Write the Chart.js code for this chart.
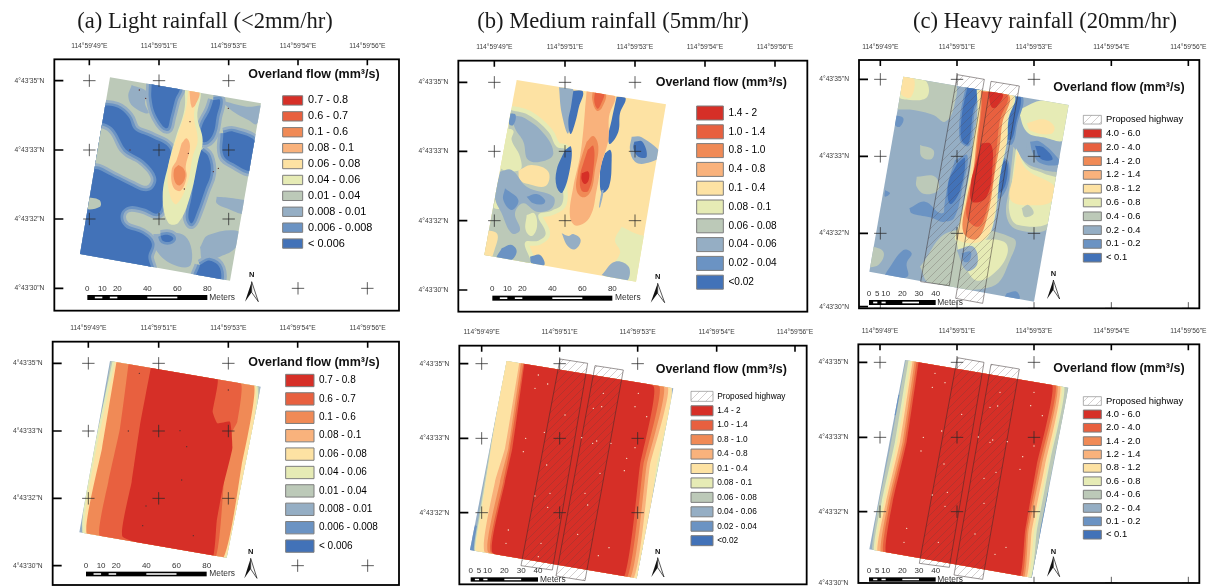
<!DOCTYPE html>
<html><head><meta charset="utf-8">
<style>html,body{margin:0;padding:0;background:#fff;width:1208px;height:586px;overflow:hidden}
canvas{position:absolute;filter:blur(.35px)}</style>
<script src="https://cdn.jsdelivr.net/npm/chart.js@4"></script>
</head><body>
<script>
// ---------- shared labels and colours ----------
const xTickLabels = ['114°59\'49"E','114°59\'51"E','114°59\'53"E','114°59\'54"E','114°59\'56"E'];
const yTickLabels = ['4°43\'35"N','4°43\'33"N','4°43\'32"N','4°43\'30"N'];
const classColors = ['#d62f27','#e8603f','#f08a56','#f9b27c','#fde2a3','#e6ebb5','#bcc9b8','#95aec4','#6b93c3','#4272b8'];
const legendLight = ['0.7 - 0.8','0.6 - 0.7','0.1 - 0.6','0.08 - 0.1','0.06 - 0.08','0.04 - 0.06','0.01 - 0.04','0.008 - 0.01','0.006 - 0.008','< 0.006'];
const legendMedium = ['1.4 - 2','1.0 - 1.4','0.8 - 1.0','0.4 - 0.8','0.1 - 0.4','0.08 - 0.1','0.06 - 0.08','0.04 - 0.06','0.02 - 0.04','<0.02'];
const legendHeavy = ['4.0 - 6.0','2.0 - 4.0','1.4 - 2.0','1.2 - 1.4','0.8 - 1.2','0.6 - 0.8','0.4 - 0.6','0.2 - 0.4','0.1 - 0.2','< 0.1'];
const scaleLong = [0,10,20,40,60,80];
const scaleShort = [0,5,10,20,30,40];
const barWhiteLong = [[5,10],[15,20],[40,60]];
const barWhiteShort = [[2.5,5],[7.5,10],[20,30]];

// ---------- map outlines (map units: 3 units per screen pixel of the panel) ----------
const outlineA = [330,232,783,310,690,842,240,762];
const outlineB = [335,240,783,313,693,845,238,765];
const outlineC = [280,230,776,315,672,905,178,815];
const outlineD = [330,138,782,215,680,728,238,652];
const outlineE = [305,138,805,220,695,790,195,705];
const outlineF = [285,135,775,218,665,788,178,703];

// ---------- contour classes: [class, vertices, halo kind] ----------
const contoursA = [
 [6,[300,220,800,220,800,860,200,860]],
 [7,[395,255,440,275,435,310,445,340,400,320,385,290]],
 [7,[660,300,740,320,790,320,770,372,745,360,700,335]],
 [7,[650,590,700,595,750,610,738,642,680,625,650,610]],
 [7,[460,702,555,708,572,795,515,792,465,745]],
 [7,[600,742,625,705,718,695,708,742,660,770,610,782]],
 [9,[300,315,350,322,385,350,405,390,450,410,510,448,505,520,490,600,474,640,430,625,385,620,362,645,375,680,425,700,455,730,445,770,450,815,220,785,240,600,262,500,285,420],1],
 [6,[285,380,325,395,365,460,420,495,452,535,440,557,400,542,340,512,300,492,260,482],3],
 [6,[255,590,298,600,300,620,255,625]],
 [9,[455,250,537,262,525,300,512,350,500,385,470,350,455,300],1],
 [9,[640,300,660,300,650,350,640,400,620,425,600,420,605,380,630,330],1],
 [9,[605,450,625,470,632,520,615,570,590,640,575,670,565,650,575,590,585,520,590,470],1],
 [9,[670,400,700,395,770,430,755,510,700,490,670,465],1],
 [9,[600,795,630,782,660,805,655,850,590,838],1],
 [9,[482,707,505,705,520,715,510,725,488,722],1],
 [5,[555,265,600,270,592,350,608,420,595,480,570,590,535,668,505,668,488,590,506,490,528,410,553,330]],
 [4,[565,270,590,275,582,350,593,420,578,470,562,550,530,612,511,590,503,520,518,450,538,390,557,330]],
 [3,[545,430,560,415,570,440,557,500,560,530,542,572,520,562,515,510,530,480]],
 [3,[568,270,598,275,586,315,575,322]],
 [2,[535,495,550,505,556,530,540,556,525,546,522,510]]
];
const contoursB = [
 [4,[300,220,800,220,800,860,200,860]],
 [5,[650,680,690,700,730,720,700,860,600,835,645,760,630,720]],
 [6,[318,330,370,345,430,395,455,440,482,450,472,540,472,610,440,632,400,645,422,700,400,722,360,728,372,790,240,790,225,740,250,640,285,520,305,420],4],
 [4,[225,690,275,700,270,745,245,795,210,770]],
 [5,[300,385,325,392,320,420,345,470,345,510,285,500]],
 [4,[340,512,380,495,430,515,422,558,370,552,345,540]],
 [5,[270,600,295,605,295,622,268,625]],
 [5,[365,645,388,640,396,680,380,708,362,690]],
 [7,[322,345,360,355,420,405,445,460,420,482,370,480,355,425,330,385]],
 [7,[285,515,320,510,365,560,445,590,440,625,395,635,355,610,330,640,345,690,320,700,290,640,270,590]],
 [8,[365,590,395,582,420,600,415,612,385,610]],
 [8,[300,565,340,600,320,630,295,600]],
 [8,[290,745,320,735,335,755,315,782,275,778]],
 [8,[375,770,405,765,418,795,380,790]],
 [8,[315,340,332,345,325,375,312,372]],
 [7,[462,262,505,270,490,400,470,340]],
 [7,[470,700,490,708,505,702,527,720,510,748,488,738]],
 [7,[590,825,630,785,672,802,662,845]],
 [9,[505,272,534,275,522,320,510,370,497,402,490,365,498,320]],
 [9,[480,450,498,440,496,500,472,578,455,560,455,510]],
 [9,[635,290,662,295,645,340,640,395,615,432,610,410,620,360]],
 [9,[600,460,616,450,620,480,612,560,590,578,585,520,590,490]],
 [7,[590,570,596,570,585,622,582,622]],
 [7,[680,410,710,412,768,465,722,490,690,485,675,450]],
 [9,[688,425,712,425,725,470,700,470,685,445]],
 [3,[545,272,628,285,612,350,610,420,590,490,575,570,555,650,515,677,495,650,505,560,525,470,535,390,540,330]],
 [2,[563,272,602,280,590,325,575,332,562,300]],
 [2,[545,425,565,408,580,440,570,510,558,572,535,592,515,572,518,520,530,470]],
 [1,[570,275,597,280,588,312,578,326,568,305]],
 [1,[548,450,565,438,566,500,550,572,530,572,525,530,535,490]],
 [0,[530,520,550,515,551,540,540,552,530,540]]
];
const contoursC = [
 [7,[160,210,800,210,800,920,160,920]],
 [6,[270,225,430,245,432,320,405,365,370,345,310,330,235,320,250,260]],
 [5,[270,225,345,240,352,290,300,300,260,285]],
 [4,[280,228,312,235,302,292,272,280]],
 [5,[625,330,700,300,790,310,765,418,700,412,650,395]],
 [4,[650,370,700,358,733,380,722,402,662,392]],
 [6,[610,440,650,490,700,510,760,530,720,680,625,690,590,650,598,560]],
 [5,[618,445,652,498,700,520,755,548,725,662,625,675,598,635,605,555]],
 [4,[622,452,652,510,735,560,728,602,670,616,602,600,612,520]],
 [6,[635,625,655,615,671,640,645,651]],
 [6,[330,800,420,695,610,715,600,780,545,860,360,850]],
 [5,[440,725,505,720,582,725,592,762,552,820,502,842,470,810,450,770]],
 [7,[440,750,490,740,502,792,470,812]],
 [8,[455,760,482,755,478,782,462,785]],
 [8,[255,345,280,355,270,380,255,375]],
 [6,[330,435,370,450,365,477,335,470]],
 [6,[320,530,375,530,385,570,345,582,320,560]],
 [8,[225,570,240,580,225,590]],
 [6,[170,735,220,755,205,795,165,795]],
 [8,[230,815,280,750,305,760,290,790,292,830,225,830]],
 [8,[590,880,620,875,628,897,585,895]],
 [8,[298,625,345,605,392,640,418,625,405,665,360,652,305,640]],
 [9,[472,262,507,270,490,330,475,432,455,420,455,350],2],
 [8,[435,480,472,466,457,565,432,655,405,660,412,560]],
 [9,[442,490,465,475,450,572,420,612,415,550]],
 [8,[606,290,640,295,622,372,607,432,582,425,588,370]],
 [9,[612,290,633,295,618,368,605,418,590,415,596,365]],
 [8,[578,468,597,490,592,560,565,596,557,540,568,500]],
 [9,[583,480,593,495,587,552,570,578,565,540,572,505]],
 [7,[650,420,690,415,752,475,750,500,690,500,655,465]],
 [8,[660,425,690,425,750,482,745,495,692,490,668,458]],
 [9,[675,437,700,442,728,478,692,476]],
 [5,[500,268,612,285,595,360,592,420,570,530,548,680,512,728,438,722,448,670,465,590,480,510,490,420,502,340]],
 [4,[505,270,606,285,591,360,590,420,565,530,545,680,510,725,442,718,450,670,468,590,483,510,493,420,505,340]],
 [2,[513,272,597,285,577,370,570,430,556,510,532,650,500,717,460,697,470,600,490,510,500,420,510,340]],
 [1,[517,275,592,285,570,360,562,425,549,540,529,635,505,680,470,650,482,560,497,480,506,400,514,330]],
 [0,[535,275,578,282,560,320,545,322]],
 [0,[515,430,542,432,548,490,530,590,487,605,483,550,498,490]]
];
const contoursD = [
 [7,[300,120,800,120,800,740,220,740]],
 [6,[335,125,245,660,240,690,685,735,775,205]],
 [5,[340,125,250,660,680,735,770,205]],
 [4,[347,125,257,660,672,735,765,205]],
 [2,[352,125,306,400,262,660,665,735,725,450,760,205]],
 [1,[388,128,360,340,325,500,300,665,642,735,672,500,697,350,712,320,722,205]],
 [0,[458,130,420,330,395,500,368,665,635,735,650,620,668,520,697,400,690,320,652,325,638,290,652,190]]
];
const contoursE = [
 [7,[290,125,820,205,700,800,180,715]],
 [8,[210,630,180,715,212,720,222,640]],
 [8,[700,700,720,700,705,805,690,800]],
 [6,[300,125,255,400,222,600,210,720,690,800,730,620,792,210]],
 [5,[302,125,258,400,225,600,213,720,692,800,728,600,796,210]],
 [4,[303,125,258,400,228,600,215,720,690,800,755,450,797,210]],
 [3,[345,130,300,400,270,500,240,712,680,800,735,450,787,213]],
 [2,[350,130,310,400,285,500,250,712,670,800,725,450,775,213]],
 [1,[357,132,315,400,295,500,258,712,660,800,715,450,762,213]],
 [0,[360,132,322,400,300,500,263,714,650,800,705,450,745,213]]
];
const contoursF = [
 [7,[270,120,790,205,680,800,165,715]],
 [8,[258,240,275,240,258,300,248,300]],
 [8,[700,560,720,520,672,790,660,790]],
 [6,[290,120,240,400,200,600,190,720,670,795,690,650,735,420,770,205]],
 [5,[298,120,255,380,215,560,195,720,658,795,680,650,722,430,760,205]],
 [4,[306,122,262,380,222,560,200,720,650,795,672,650,715,440,752,205]],
 [3,[310,125,270,380,228,560,205,720,645,795,665,650,705,450,748,205]],
 [2,[316,125,278,380,235,560,215,720,638,795,655,650,695,450,740,205]],
 [1,[322,125,284,380,241,560,222,720,632,795,650,650,688,450,735,205]],
 [0,[328,125,290,380,248,560,230,720,625,795,645,650,680,450,725,205]]
];

// ---------- proposed highway strips ----------
const highwayC = [[442,224,523,238,418,857,332,845],[543,244,628,258,518,910,437,895]];
const highwayE = [[465,132,548,145,442,765,348,752],[570,152,655,165,540,797,453,783]];
const highwayF = [[442,128,522,142,418,757,328,745],[543,148,628,162,518,793,432,780]];

// ---------- sampling points (small pale dots) ----------
const dotsA = [418,270,437,295,570,365,655,505,553,567,390,450,565,460,640,515,685,325];
const dotsD = [418,175,385,348,540,347,560,395,545,495,438,573,428,632,580,662,685,225];
const dotsE = [400,180,390,220,428,207,480,300,418,352,362,370,355,410,425,450,435,535,390,543,428,577,310,645,303,685,408,685,400,725,518,658,612,698,580,722,595,235,700,235,565,280,590,275,690,275,725,305,530,368,575,378,563,385,618,385,690,398,665,430,658,467,585,475,540,535,548,570];
const dotsF = [375,175,367,217,405,203,455,298,395,348,340,367,333,408,402,447,412,532,367,540,405,574,290,640,282,682,385,682,495,657,588,697,555,718,570,232,672,232,540,277,563,273,662,272,697,302,505,366,548,375,540,382,592,380,672,393,638,425,630,463,558,472,522,490,522,565];

// ---------- six panels ----------
const panels = [
 {canvas:[0,0,405,318],crop:[0,0],x:[163,1197],y:[178,932],xt:[268,477,686,894,1102],yt:[242,450,657,865],
  title:'(a) Light rainfall (<2mm/hr)',titleX:205,outline:outlineA,contours:contoursA,dots:dotsA,
  crosses:[[268,242],[477,242],[686,242],[268,450],[477,450],[686,450],[268,657],[477,657],[686,657],[894,865],[1102,865]],
  head:[745,225],legend:{labels:legendLight,x:848,y:285,bw:60,bh:28,pitch:47.7,size:10.9},
  sb:{x0:262,k:4.5,y:885,h:15,ly:866,ms:scaleLong,wh:barWhiteLong,mx:628},north:[755,825,845,905,20]},
 {canvas:[405,0,410,318],crop:[405,0],x:[160,1207],y:[182,935],xt:[268,480,690,900,1110],yt:[247,454,662,870],
  title:'(b) Medium rainfall (5mm/hr)',titleX:613,outline:outlineB,contours:contoursB,dots:[],
  crosses:[[268,247],[480,247],[690,247],[268,454],[480,454],[690,454],[268,662],[480,662],[690,662]],
  head:[752,247],legend:{labels:legendMedium,x:875,y:318,bw:80,bh:42,pitch:56.4,size:10.1},
  sb:{x0:262,k:4.5,y:887,h:15,ly:866,ms:scaleLong,wh:barWhiteLong,mx:630},north:[758,830,850,908,21]},
 {canvas:[815,0,393,318],crop:[810,0],x:[147,1168],y:[180,925],xt:[211,441,672,904,1135],yt:[238,469,700,920],
  title:'(c) Heavy rainfall (20mm/hr)',titleX:1045,outline:outlineC,contours:contoursC,dots:[],highway:highwayC,
  crosses:[[211,238],[441,238],[672,238],[211,469],[441,469],[672,469],[211,700],[441,700],[672,700],[211,925],[441,925],[672,925],[904,925],[1135,925]],
  head:[730,262],legend:{labels:legendHeavy,hatch:true,x:820,y:345,bw:54,bh:26,pitch:41.4,size:9.4},
  sb:{x0:177,k:5,y:900,h:15,ly:882,ms:scaleShort,wh:barWhiteShort,mx:382},north:[730,822,840,897,19]},
 {canvas:[0,318,405,268],crop:[0,315],x:[158,1197],y:[80,810],xt:[265,476,685,893,1103],yt:[145,348,550,752],
  outline:outlineD,contours:contoursD,dots:dotsD,
  crosses:[[265,145],[476,145],[685,145],[265,348],[476,348],[685,348],[265,550],[476,550],[685,550],[893,752],[1103,752]],
  head:[745,142],legend:{labels:legendLight,x:857,y:178,bw:85,bh:37,pitch:55.2,size:10},
  sb:{x0:258,k:4.525,y:770,h:14,ly:752,ms:scaleLong,wh:barWhiteLong,mx:628},north:[752,712,730,790,19]},
 {canvas:[405,318,410,268],crop:[405,315],x:[163,1205],y:[92,808],xt:[230,464,698,935,1170],yt:[146,370,593],
  outline:outlineE,contours:contoursE,dots:dotsE,highway:highwayE,
  crosses:[[230,146],[464,146],[698,146],[230,370],[464,370],[698,370],[230,593],[464,593],[698,593]],
  head:[752,165],legend:{labels:legendMedium,hatch:true,x:858,y:229,bw:66,bh:30,pitch:43.3,size:8.3},
  sb:{x0:197,k:5.05,y:787,h:13,ly:768,ms:scaleShort,wh:barWhiteShort,mx:405},north:[758,712,728,786,19]},
 {canvas:[815,318,393,268],crop:[810,315],x:[145,1168],y:[88,804],xt:[210,441,672,904,1135],yt:[142,367,590,805],
  outline:outlineF,contours:contoursF,dots:dotsF,highway:highwayF,
  crosses:[[210,142],[441,142],[672,142],[210,367],[441,367],[672,367],[210,590],[441,590],[672,590],[904,804],[1135,804],[672,804]],
  head:[730,162],legend:{labels:legendHeavy,hatch:true,x:820,y:244,bw:54,bh:26,pitch:40.1,size:9.4},
  sb:{x0:177,k:5,y:787,h:13,ly:766,ms:scaleShort,wh:barWhiteShort,mx:382},north:[730,710,725,785,19]}
];

// ---------- helpers ----------
const SANS='"Liberation Sans",Arial,sans-serif', SERIF='"Liberation Serif","Times New Roman",serif';
function toPoints(flat){const p=[];for(let i=0;i<flat.length;i+=2)p.push({x:flat[i],y:flat[i+1]});return p;}
function closed(flat){const p=toPoints(flat);p.push({...p[0]});return p;}
function hatchPattern(){
  const c=document.createElement('canvas');c.width=c.height=8;const g=c.getContext('2d');
  g.strokeStyle='rgba(80,65,65,.42)';g.lineWidth=.6;
  g.beginPath();g.moveTo(-1,9);g.lineTo(9,-1);g.moveTo(-1,1);g.lineTo(1,-1);g.moveTo(7,9);g.lineTo(9,7);g.stroke();
  return document.createElement('canvas').getContext('2d').createPattern(c,'repeat');
}
const hatch=hatchPattern();

// clip contour fills to the rotated map outline: must run before the filler hook
const mapClip={id:'mapClip',
  beforeDatasetDraw(chart,args){
    const ds=chart.data.datasets[args.index]; if(!ds.mapOutline) return;
    const c=chart.ctx,X=chart.scales.x,Y=chart.scales.y,o=ds.mapOutline;
    c.save();c.beginPath();
    for(let i=0;i<o.length;i+=2){const px=X.getPixelForValue(o[i]),py=Y.getPixelForValue(o[i+1]);i?c.lineTo(px,py):c.moveTo(px,py);}
    c.closePath();c.clip();
  },
  afterDatasetDraw(chart,args){ if(chart.data.datasets[args.index].mapOutline) chart.ctx.restore(); }
};
const filler=Chart.registry.plugins.get('filler');
Chart.unregister(filler);
Chart.register(mapClip,filler);
const noOverhang=s=>{s.paddingLeft=s.paddingRight=s.paddingTop=s.paddingBottom=0;};

panels.forEach((P,idx)=>{
  const [cl,ct,cw,ch]=P.canvas;
  const cv=document.createElement('canvas');cv.width=cw;cv.height=ch;
  cv.style.cssText=`left:${cl}px;top:${ct}px;width:${cw}px;height:${ch}px`;
  document.body.appendChild(cv);
  const pxL=P.crop[0]+P.x[0]/3-cl, pxR=P.crop[0]+P.x[1]/3-cl, pxT=P.crop[1]+P.y[0]/3-ct, pxB=P.crop[1]+P.y[1]/3-ct;
  const titleH=P.title?24:0;
  const datasets=[];
  const add=d=>datasets.push(d);
  const fillLayer=(flat,col,bc,bw,t)=>add({type:'line',data:closed(flat),mapOutline:P.outline,backgroundColor:col,borderColor:bc||col,borderWidth:bw||0,fill:'shape',pointRadius:0,tension:t,spanGaps:true,borderJoinStyle:'round'});
  const straight=P.contours.length<=10;
  P.contours.forEach(([k,flat,halo])=>{
    const t=straight?0.12:0.4;
    if(halo===1){fillLayer(flat,classColors[7],classColors[7],11,t);fillLayer(flat,classColors[8],classColors[8],5.5,t);}
    if(halo===2){fillLayer(flat,classColors[7],classColors[7],7,t);fillLayer(flat,classColors[8],classColors[8],3.5,t);}
    if(halo===3){fillLayer(flat,classColors[8],classColors[8],11,t);fillLayer(flat,classColors[7],classColors[7],5.5,t);}
    if(halo===4){fillLayer(flat,classColors[5],classColors[5],9,t);}
    fillLayer(flat,classColors[k],null,0,t);
  });
  (P.highway||[]).forEach(h=>add({type:'line',data:closed(h),backgroundColor:hatch,borderColor:'rgba(50,40,40,.7)',borderWidth:.7,fill:'shape',pointRadius:0,tension:0}));
  if(P.dots.length) add({type:'scatter',data:toPoints(P.dots),pointStyle:'circle',pointRadius:.7,pointBorderWidth:0,pointBackgroundColor:P.highway?'#f6e6d0':'#5a3030',showLine:false});
  add({type:'scatter',data:P.crosses.map(([x,y])=>({x,y})),pointStyle:'cross',pointRadius:6.2,pointBorderWidth:.75,pointBorderColor:'#2a2a2a',showLine:false});
  add({type:'scatter',data:P.yt.map(y=>({x:P.x[0],y})),pointStyle:'line',pointRadius:9,pointBorderWidth:1.6,pointBorderColor:'#000',showLine:false});
  add({type:'scatter',data:P.xt.map(x=>({x,y:P.y[0]})),pointStyle:'line',pointRotation:90,pointRadius:6,pointBorderWidth:1.6,pointBorderColor:'#000',showLine:false});
  datasets.forEach((d,i)=>d.order=datasets.length-i);

  const L=P.legend;
  const boxW=L.bw/3, boxH=L.bh/3;
  const items=[];
  if(L.hatch) items.push({text:'Proposed highway',fillStyle:hatch,strokeStyle:'#9a9a9a',lineWidth:.8,hidden:false});
  L.labels.forEach((t,i)=>items.push({text:t,fillStyle:classColors[i],strokeStyle:'#7d7d7d',lineWidth:1,hidden:false}));
  const itemH=Math.max(boxH,L.size), padding=L.pitch/3-itemH;

  const decorate={id:'decorate'+idx,
    afterLayout(chart){
      const X=chart.scales.x,Y=chart.scales.y,lg=chart.legend;
      const w=lg.width,h=lg.height;
      lg.left=X.getPixelForValue(L.x)-padding; lg.top=Y.getPixelForValue(L.y)-padding;
      lg.right=lg.left+w; lg.bottom=lg.top+h+40;
      if(chart.titleBlock&&P.title){const tb=chart.titleBlock,c=P.titleX-cl;tb.left=c-200;tb.right=c+200;tb.top=10;tb.bottom=34;}
    },
    afterDatasetsDraw(chart){
      const c=chart.ctx,X=chart.scales.x,Y=chart.scales.y,a=chart.chartArea;
      const ux=v=>X.getPixelForValue(v), uy=v=>Y.getPixelForValue(v);
      c.save();
      c.strokeStyle='#000';c.lineWidth=1.8;c.strokeRect(a.left,a.top,a.right-a.left,a.bottom-a.top);
      // panel heading
      c.fillStyle='#111';c.font='bold 12.5px '+SANS;c.textAlign='left';c.textBaseline='middle';
      c.fillText('Overland flow (mm³/s)',ux(P.head[0]),uy(P.head[1]));
      // scale bar
      const S=P.sb,bx=m=>ux(S.x0+m*S.k);
      const last=S.ms[S.ms.length-1];
      c.fillStyle='#000';c.fillRect(bx(0),uy(S.y),bx(last)-bx(0),S.h/3);
      c.fillStyle='#fff';S.wh.forEach(([m0,m1])=>c.fillRect(bx(m0),uy(S.y)+S.h/9,bx(m1)-bx(m0),S.h/9));
      c.fillStyle='#333';c.font='8px '+SANS;c.textAlign='center';
      S.ms.forEach(m=>c.fillText(String(m),bx(m),uy(S.ly)));
      c.textAlign='left';c.font='8.4px '+SANS;c.fillText('Meters',ux(S.mx),uy(S.y+S.h/2));
      // north arrow
      const [nx,ny,tip,base,half]=P.north;
      c.fillStyle='#111';c.font='bold 7.5px '+SANS;c.textAlign='center';c.fillText('N',ux(nx),uy(ny));
      c.beginPath();c.moveTo(ux(nx),uy(tip));c.lineTo(ux(nx-half),uy(base));c.lineTo(ux(nx),uy(base-28));c.closePath();c.fillStyle='#111';c.fill();
      c.beginPath();c.moveTo(ux(nx),uy(tip));c.lineTo(ux(nx+half),uy(base));c.lineTo(ux(nx),uy(base-28));c.closePath();c.fillStyle='#fff';c.fill();c.strokeStyle='#111';c.lineWidth=.7;c.stroke();
      c.restore();
    }
  };

  new Chart(cv,{
    data:{datasets},
    plugins:[decorate],
    options:{
      responsive:false,animation:false,events:[],
      layout:{autoPadding:false,padding:{left:0,top:0,right:cw-pxR,bottom:ch-pxB}},
      scales:{
        x:{type:'linear',position:'top',min:P.x[0],max:P.x[1],
           afterFit:s=>{s.height=pxT-titleH;noOverhang(s);},
           afterBuildTicks:s=>{s.ticks=P.xt.map(v=>({value:v}));},
           grid:{drawOnChartArea:false,drawTicks:false},border:{display:false},
           ticks:{autoSkip:false,maxRotation:0,padding:9,color:'#3c3c3c',font:{family:SANS,size:6.7},callback:(v,i)=>xTickLabels[i]}},
        y:{type:'linear',position:'left',reverse:true,min:P.y[0],max:P.y[1],
           afterFit:s=>{s.width=pxL;noOverhang(s);},
           afterBuildTicks:s=>{s.ticks=P.yt.map(v=>({value:v}));},
           grid:{drawOnChartArea:false,drawTicks:false},border:{display:false},
           ticks:{autoSkip:false,padding:10,color:'#3c3c3c',font:{family:SANS,size:6.7},callback:(v,i)=>yTickLabels[i]}}
      },
      plugins:{
        tooltip:{enabled:false},
        title:{display:!!P.title,text:P.title||'',color:'#1a1a1a',padding:0,font:{family:SERIF,size:22.6,weight:'normal',lineHeight:24/22.6}},
        legend:{display:true,position:'chartArea',align:'start',
          labels:{boxWidth:boxW,boxHeight:boxH,padding,color:'#333',font:{family:SANS,size:L.size,lineHeight:1},generateLabels:()=>items}}
      }
    }
  });
});
</script>
</body></html>
